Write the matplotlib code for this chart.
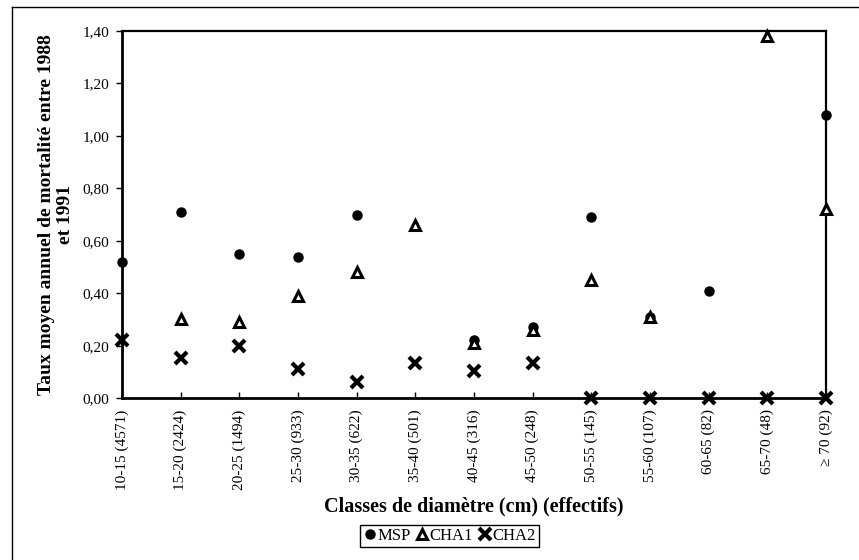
#!/usr/bin/env python3

import numpy as np
import matplotlib
matplotlib.use('Agg')
import matplotlib.pyplot as plt
from matplotlib.lines import Line2D

plt.rcParams['font.family'] = ['Liberation Serif', 'DejaVu Serif']

classes = ['10-15 (4571)', '15-20 (2424)', '20-25 (1494)', '25-30 (933)', '30-35 (622)',
           '35-40 (501)', '40-45 (316)', '45-50 (248)', '50-55 (145)', '55-60 (107)',
           '60-65 (82)', '65-70 (48)', '\u2265 70 (92)']
msp = [0.52, 0.71, 0.55, 0.54, 0.70, np.nan, 0.22, 0.27, 0.69, 0.31, 0.41, np.nan, 1.08]
cha1 = [np.nan, 0.30, 0.29, 0.39, 0.48, 0.66, 0.21, 0.26, 0.45, 0.31, np.nan, 1.38, 0.72]
cha2 = [0.22, 0.155, 0.20, 0.11, 0.06, 0.135, 0.105, 0.135, 0.0, 0.0, 0.0, 0.0, 0.0]
yticks = [0.0, 0.2, 0.4, 0.6, 0.8, 1.0, 1.2, 1.4]

fig = plt.figure(figsize=(8.59, 5.6), dpi=100)
ax = fig.add_axes([0.142, 0.289, 0.8196, 0.6556])

x = np.arange(len(classes))
ax.plot(x, msp, 'o', color='black', markersize=6.5, clip_on=False, zorder=3, label='MSP')
ax.plot(x, cha1, '^', markerfacecolor='white', markeredgecolor='black', markeredgewidth=2.2,
        markersize=7.5, clip_on=False, zorder=4, label='CHA1')
ax.plot(x, cha2, 'x', color='black', markeredgewidth=3, markersize=8.5, clip_on=False,
        zorder=5, label='CHA2')

ax.set_xlim(0, len(classes) - 1)
ax.set_ylim(0, 1.4)
ax.set_yticks(yticks)
ax.set_yticklabels([f'{v:.2f}'.replace('.', ',') for v in yticks], fontsize=11)
ax.set_xticks(x)
ax.set_xticklabels(classes, rotation=90, fontsize=11)
ax.tick_params(axis='x', direction='in', length=4, width=1, pad=8)
ax.tick_params(axis='y', direction='out', length=4, width=1, pad=5)

for side in ['left', 'bottom']:
    ax.spines[side].set_linewidth(2)
for side in ['top', 'right']:
    ax.spines[side].set_linewidth(1.6)

ax.set_xlabel('Classes de diamètre (cm) (effectifs)', fontsize=14.5, fontweight='bold', labelpad=5)
ax.set_ylabel('Taux moyen annuel de mortalité entre 1988\net 1991', fontsize=14,
              fontweight='bold', labelpad=6, linespacing=1.15)

fig.legend(loc='center', bbox_to_anchor=(0.523, 0.043), ncol=3, frameon=True, fancybox=False,
           edgecolor='black', handletextpad=0.05, columnspacing=0.3, handlelength=0.8,
           borderpad=0.2, fontsize=12, framealpha=1)

# outer frame of the scanned figure
fig.add_artist(Line2D([12 / 859, 12 / 859], [0, 1 - 7 / 560], color='black', lw=1))
fig.add_artist(Line2D([12 / 859, 1], [1 - 7 / 560, 1 - 7 / 560], color='black', lw=1))

fig.savefig('out.png', dpi=100)
